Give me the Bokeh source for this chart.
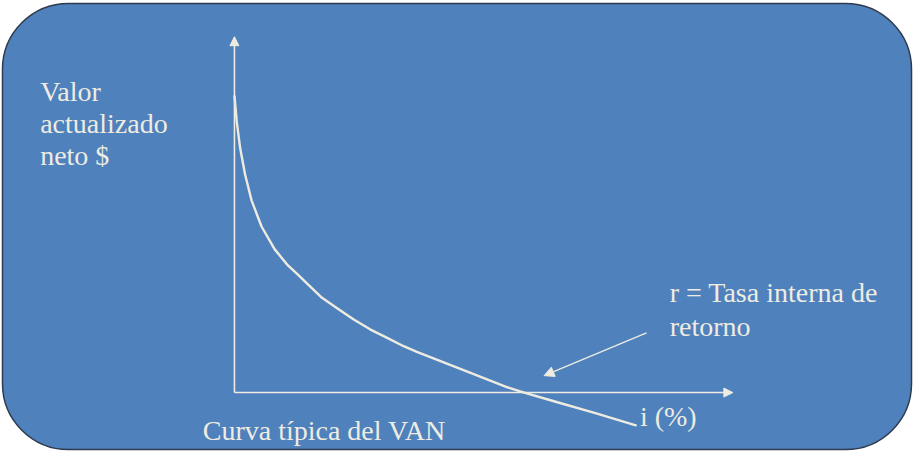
from bokeh.plotting import figure
from bokeh.models import Range1d, Label, Arrow, NormalHead
from bokeh.embed import file_html
from bokeh.resources import INLINE

# ---- data ----
# interest rate i (%) and net present value VAN ($); IRR at i = 20 %
I_PCT = [0.0, 0.16, 0.39, 0.73, 1.18, 1.87, 2.78, 3.69, 4.38, 4.84, 5.97,
         7.11, 8.26, 9.39, 10.54, 11.68, 12.59, 14.18, 16.47, 18.75, 20.0,
         22.17, 24.91, 27.76]
VAN = [1000, 912, 824, 735, 647, 559, 482, 428, 397, 375, 322,
       283, 245, 212, 184, 156, 137, 107, 63, 19, 0,
       -31, -69, -111]
AXIS_I_MAX = 34.4      # end of the i axis arrow
AXIS_VAN_MAX = 1198    # end of the VAN axis arrow
IRR_POINTER = [(28.44, 201), (21.37, 57)]   # arrow pointing at r

TXT_Y = ["Valor", "actualizado", "neto $"]
TXT_R = ["r = Tasa interna de", "retorno"]
TXT_X = "i (%)"
TXT_TITLE = "Curva típica del VAN"

# ---- layout helpers (reference picture is 922 x 460 px) ----
REF_W, REF_H = 922, 460
ORIGIN_PX = (236, 399)
PX_PER_PCT = 14.615
PX_PER_USD = 0.3023


def dx(px):
    return (px - ORIGIN_PX[0]) / PX_PER_PCT


def dy(py):
    return (ORIGIN_PX[1] - py) / PX_PER_USD


FILL = "#4F81BD"
EDGE = "#2E3B4E"
INK = "#EEECE1"
FONT = "Liberation Serif"
FS = "28px"
BASE_FIX = 9   # screen px, lifts text to its alphabetic baseline

p = figure(width=914, height=452,
           x_range=Range1d(dx(0), dx(REF_W)), y_range=Range1d(dy(REF_H), dy(0)),
           x_axis_location=None, y_axis_location=None,
           output_backend="svg", toolbar_location=None, min_border=0)
p.grid.visible = False
p.outline_line_color = None
p.background_fill_color = "white"
p.border_fill_color = "white"

# rounded frame
p.quad(left=dx(2), right=dx(919), top=dy(3), bottom=dy(457),
       fill_color=FILL, line_color=EDGE, line_width=1.5, border_radius=66)

# axes with arrow heads
p.add_layout(Arrow(x_start=0, y_start=0, x_end=AXIS_I_MAX, y_end=0,
                   line_color=INK, line_width=1.6,
                   end=NormalHead(size=9, fill_color=INK, line_color=INK, line_width=1)))
p.add_layout(Arrow(x_start=0, y_start=0, x_end=0, y_end=AXIS_VAN_MAX,
                   line_color=INK, line_width=1.6,
                   end=NormalHead(size=9, fill_color=INK, line_color=INK, line_width=1)))

# NPV curve
p.line(I_PCT, VAN, line_color=INK, line_width=2.4, line_join="round")

# pointer to IRR
p.add_layout(Arrow(x_start=IRR_POINTER[0][0], y_start=IRR_POINTER[0][1],
                   x_end=IRR_POINTER[1][0], y_end=IRR_POINTER[1][1],
                   line_color=INK, line_width=1.4,
                   end=NormalHead(size=10, fill_color=INK, line_color=INK, line_width=1)))


def label(x, y, t):
    p.add_layout(Label(x=x, y=y, y_offset=BASE_FIX, text=t, text_font=FONT,
                       text_font_size=FS, text_color=INK,
                       text_baseline="alphabetic", text_align="left"))


for k, t in enumerate(TXT_Y):
    label(dx(40), dy(102 + 32.5 * k), t)
for k, t in enumerate(TXT_R):
    label(dx(675), dy(306.5 + 34 * k), t)
label(dx(645), dy(433), TXT_X)
label(dx(204), dy(447), TXT_TITLE)

open("out.html", "w").write(file_html(p, INLINE))
